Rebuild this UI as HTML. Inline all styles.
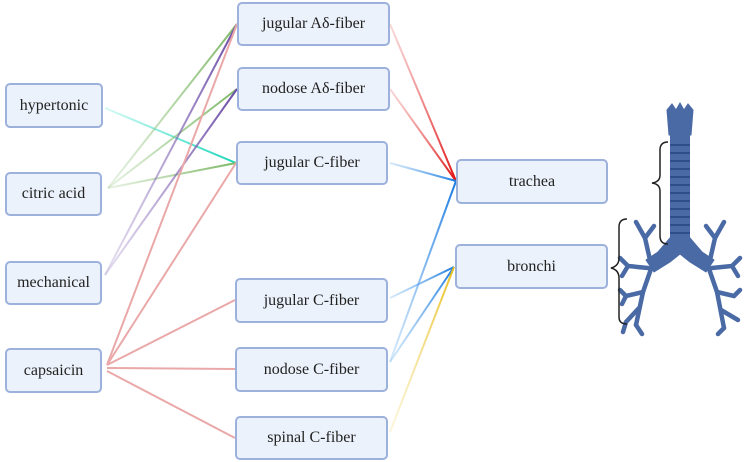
<!DOCTYPE html>
<html><head><meta charset="utf-8"><style>
body{margin:0;background:#fff;width:749px;height:462px;overflow:hidden;position:relative;font-family:"Liberation Serif",serif;}
.b{position:absolute;box-sizing:border-box;background:#ecf2fb;border:2px solid #9db1dd;border-radius:5px;display:flex;align-items:center;justify-content:center;font-size:16px;color:#222;}
svg{position:absolute;left:0;top:0;}
</style></head><body>
<svg width="749" height="462">
<defs>
<linearGradient id="tl" gradientUnits="userSpaceOnUse" x1="105" y1="108" x2="236" y2="163"><stop offset="0" stop-color="#2ee0c8" stop-opacity="0.2"/><stop offset="1" stop-color="#16d6b8"/></linearGradient>
<linearGradient id="g1" gradientUnits="userSpaceOnUse" x1="108" y1="188" x2="237" y2="24"><stop offset="0" stop-color="#8cc078" stop-opacity="0.2"/><stop offset="1" stop-color="#7db866"/></linearGradient>
<linearGradient id="g2" gradientUnits="userSpaceOnUse" x1="108" y1="188" x2="237" y2="89"><stop offset="0" stop-color="#8cc078" stop-opacity="0.2"/><stop offset="1" stop-color="#7db866"/></linearGradient>
<linearGradient id="g3" gradientUnits="userSpaceOnUse" x1="108" y1="188" x2="236" y2="163"><stop offset="0" stop-color="#8cc078" stop-opacity="0.2"/><stop offset="1" stop-color="#7db866"/></linearGradient>
<linearGradient id="p1" gradientUnits="userSpaceOnUse" x1="105" y1="275" x2="237" y2="24"><stop offset="0" stop-color="#8a6cb8" stop-opacity="0.2"/><stop offset="1" stop-color="#6a4ca8"/></linearGradient>
<linearGradient id="p2" gradientUnits="userSpaceOnUse" x1="105" y1="275" x2="237" y2="89"><stop offset="0" stop-color="#8a6cb8" stop-opacity="0.2"/><stop offset="1" stop-color="#6a4ca8"/></linearGradient>
<linearGradient id="r1" gradientUnits="userSpaceOnUse" x1="390" y1="24" x2="456" y2="181"><stop offset="0" stop-color="#f0a0a0" stop-opacity="0.4"/><stop offset="1" stop-color="#e01010"/></linearGradient>
<linearGradient id="r2" gradientUnits="userSpaceOnUse" x1="390" y1="89" x2="456" y2="181"><stop offset="0" stop-color="#f0a0a0" stop-opacity="0.4"/><stop offset="1" stop-color="#e01010"/></linearGradient>
<linearGradient id="bl1" gradientUnits="userSpaceOnUse" x1="390" y1="163" x2="456" y2="181"><stop offset="0" stop-color="#7ab8f0" stop-opacity="0.3"/><stop offset="1" stop-color="#1a7ae0"/></linearGradient>
<linearGradient id="bl2" gradientUnits="userSpaceOnUse" x1="390" y1="298" x2="454" y2="267"><stop offset="0" stop-color="#7ab8f0" stop-opacity="0.3"/><stop offset="1" stop-color="#1a7ae0"/></linearGradient>
<linearGradient id="bl3" gradientUnits="userSpaceOnUse" x1="390" y1="362" x2="456" y2="181"><stop offset="0" stop-color="#7ab8f0" stop-opacity="0.3"/><stop offset="1" stop-color="#1a7ae0"/></linearGradient>
<linearGradient id="bl4" gradientUnits="userSpaceOnUse" x1="390" y1="362" x2="454" y2="267"><stop offset="0" stop-color="#7ab8f0" stop-opacity="0.3"/><stop offset="1" stop-color="#1a7ae0"/></linearGradient>
<linearGradient id="y1" gradientUnits="userSpaceOnUse" x1="390" y1="432" x2="454" y2="267"><stop offset="0" stop-color="#f5e090" stop-opacity="0.3"/><stop offset="1" stop-color="#e8c020"/></linearGradient>
</defs>
<g stroke-width="2" fill="none">
<line x1="105" y1="108" x2="236" y2="163" stroke="url(#tl)"/>
<line x1="108" y1="188" x2="237" y2="24" stroke="url(#g1)"/>
<line x1="108" y1="188" x2="237" y2="89" stroke="url(#g2)"/>
<line x1="108" y1="188" x2="236" y2="163" stroke="url(#g3)"/>
<line x1="105" y1="275" x2="237" y2="24" stroke="url(#p1)"/>
<line x1="105" y1="275" x2="237" y2="89" stroke="url(#p2)"/>
<g stroke="#eaa8a8">
<line x1="107" y1="365" x2="237" y2="24"/>
<line x1="107" y1="365" x2="236" y2="163"/>
<line x1="107" y1="365" x2="235" y2="300"/>
<line x1="107" y1="368" x2="235" y2="369"/>
<line x1="107" y1="371" x2="235" y2="438"/>
</g>
<line x1="390" y1="24" x2="456" y2="181" stroke="url(#r1)"/>
<line x1="390" y1="89" x2="456" y2="181" stroke="url(#r2)"/>
<line x1="390" y1="163" x2="456" y2="181" stroke="url(#bl1)"/>
<line x1="390" y1="298" x2="454" y2="267" stroke="url(#bl2)"/>
<line x1="390" y1="362" x2="456" y2="181" stroke="url(#bl3)"/>
<line x1="390" y1="362" x2="454" y2="267" stroke="url(#bl4)"/>
<line x1="390" y1="432" x2="454" y2="267" stroke="url(#y1)"/>
</g>
<!-- lungs -->
<g fill="#4a6aa6" stroke="#4a6aa6">
<path d="M667 110 L672 104 L676 110 L680 103 L684 110 L688 104 L693 110 L691 135 L669 135 Z"/>
<rect x="670" y="135" width="20" height="108" stroke="none"/>
<path d="M670 238 L658 252 L646 260 L654 272 L670 262 L680 254 L690 262 L706 272 L714 260 L702 252 L690 238 Z"/>
</g>
<g stroke="#2f4d8a" stroke-width="2">
<line x1="670" y1="145" x2="690" y2="145"/><line x1="670" y1="153" x2="690" y2="153"/><line x1="670" y1="161" x2="690" y2="161"/><line x1="670" y1="169" x2="690" y2="169"/><line x1="670" y1="177" x2="690" y2="177"/><line x1="670" y1="185" x2="690" y2="185"/><line x1="670" y1="193" x2="690" y2="193"/><line x1="670" y1="201" x2="690" y2="201"/><line x1="670" y1="209" x2="690" y2="209"/><line x1="670" y1="217" x2="690" y2="217"/><line x1="670" y1="225" x2="690" y2="225"/><line x1="670" y1="233" x2="690" y2="233"/>
</g>
<g stroke="#4a6aa6" stroke-width="4.5" fill="none" stroke-linecap="round">
<path d="M652 266 L643 292 L636 325"/><path d="M648 268 L628 266 L620 258"/><path d="M628 266 L622 276"/><path d="M650 260 L645 238 L636 222"/><path d="M645 238 L654 226"/><path d="M643 292 L626 296 L620 290"/><path d="M626 296 L622 304"/><path d="M639 308 L626 322 L623 332"/><path d="M636 325 L642 334"/>
<path d="M708 266 L717 292 L724 328"/><path d="M712 268 L732 266 L740 258"/><path d="M732 266 L738 276"/><path d="M710 260 L715 238 L724 222"/><path d="M715 238 L706 226"/><path d="M717 292 L734 296 L740 290"/><path d="M721 310 L738 320"/><path d="M724 328 L718 334"/>
</g>
<g stroke="#222" stroke-width="1.5" fill="none">
<path d="M668 142 Q660 142 660 150 L660 175 Q660 182 652 183 Q660 184 660 191 L660 236 Q660 244 668 244"/>
<path d="M627 219 Q619 219 619 227 L619 258 Q619 266 611 268 Q619 270 619 278 L619 317 Q619 324 627 324"/>
</g>
</svg>
<div class="b" style="left:5px;top:83px;width:98px;height:45px">hypertonic</div>
<div class="b" style="left:5px;top:172px;width:97px;height:44px">citric acid</div>
<div class="b" style="left:5px;top:261px;width:97px;height:44px">mechanical</div>
<div class="b" style="left:5px;top:348px;width:97px;height:45px">capsaicin</div>
<div class="b" style="left:237px;top:2px;width:153px;height:44px">jugular Aδ-fiber</div>
<div class="b" style="left:237px;top:67px;width:153px;height:44px">nodose Aδ-fiber</div>
<div class="b" style="left:236px;top:141px;width:152px;height:44px">jugular C-fiber</div>
<div class="b" style="left:235px;top:278px;width:153px;height:45px">jugular C-fiber</div>
<div class="b" style="left:235px;top:347px;width:153px;height:45px">nodose C-fiber</div>
<div class="b" style="left:235px;top:416px;width:153px;height:44px">spinal C-fiber</div>
<div class="b" style="left:456px;top:159px;width:152px;height:45px">trachea</div>
<div class="b" style="left:455px;top:244px;width:153px;height:45px">bronchi</div>
</body></html>
